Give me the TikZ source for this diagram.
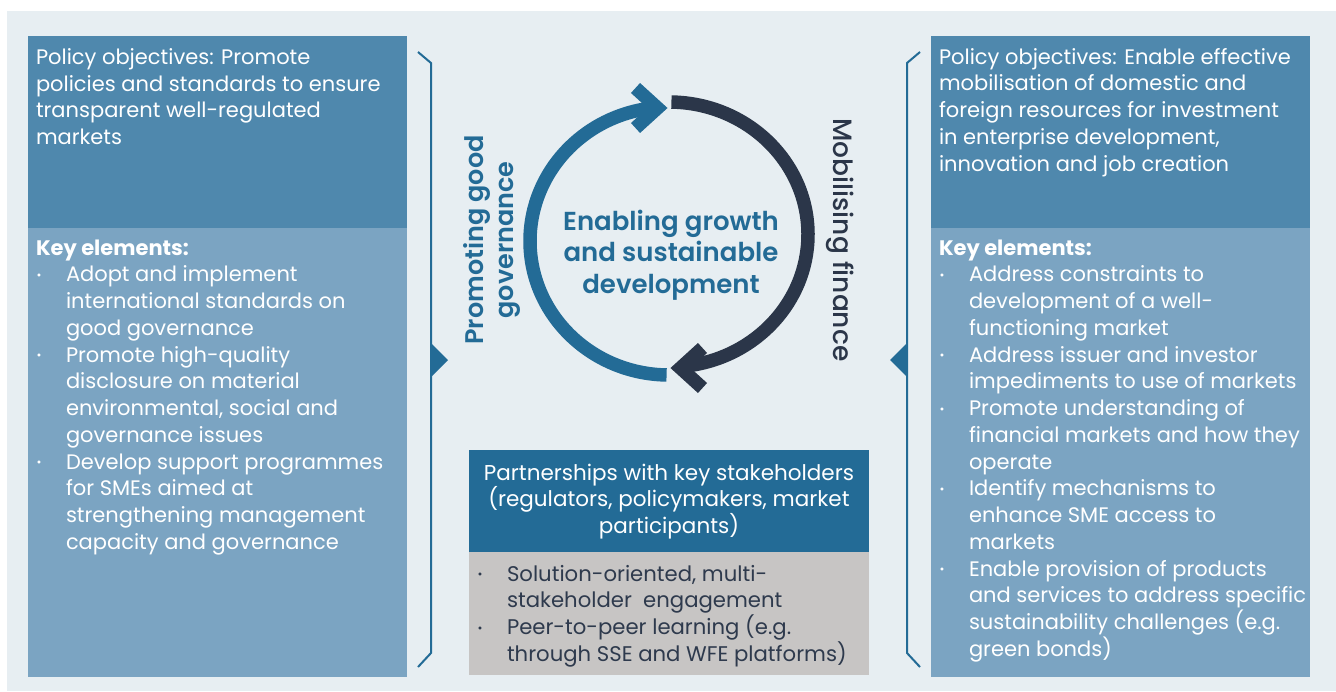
\documentclass[tikz,border=0pt]{standalone}
\usepackage{fontspec}
\setmainfont{Poppins}
\IfFontExistsTF{Poppins SemiBold}{\newfontfamily\semib{Poppins SemiBold}}{\newcommand{\semib}{\bfseries}}
\IfFontExistsTF{Poppins Medium}{\newfontfamily\medf{Poppins Medium}}{\newcommand{\medf}{\relax}}
\definecolor{bg}{HTML}{E7EEF2}
\definecolor{boxdark}{HTML}{4F88AD}
\definecolor{boxlight}{HTML}{7BA4C2}
\definecolor{accent}{HTML}{236B96}
\definecolor{navy}{HTML}{2B3649}
\definecolor{greybox}{HTML}{C7C5C4}
\definecolor{textdark}{HTML}{2E3A4D}
\newcommand{\bul}{\makebox[30pt][l]{\hspace*{0.5pt}\raisebox{2.5pt}{\fontsize{12}{12}\selectfont\textbullet}}}
\newcommand{\ind}{\hspace*{30pt}}
\begin{document}
\begin{tikzpicture}[x=1pt,y=-1pt,
  every node/.style={inner sep=0pt,outer sep=0pt},
  panel/.style={anchor=north west,minimum width=#1,draw=none},
  bodytxt/.style={anchor=north west,align=left,text=white,font=\fontsize{21}{26.75}\selectfont},
  darktxt/.style={anchor=north west,align=left,text=textdark,font=\fontsize{21.2}{26.75}\selectfont},
  brace/.style={draw=accent,line width=2pt},
  ring/.style={line width=13.5pt},
  chev/.style={line width=13.5pt,line join=miter}]
\useasboundingbox (0,0) rectangle (1336,691);
\fill[white] (0,0) rectangle (1336,691);
\fill[bg] (7,11) rectangle (1336,691);

% left panel
\node[panel=379,minimum height=192,fill=boxdark] (lobj) at (28,36) {};
\node[panel=379,minimum height=449,fill=boxlight] (lkey) at (28,228) {};
\node[bodytxt] (lobjtxt) at (36,44.3) {\rule{0pt}{20pt}Policy objectives: Promote\\policies and standards to ensure\\transparent well-regulated\\markets};
\node[bodytxt] (lkeytxt) at (36,235) {\rule{0pt}{20pt}\textbf{Key elements:}\\
\bul Adopt and implement\\
\ind international standards on\\
\ind good governance\\
\bul Promote high-quality\\
\ind disclosure on material\\
\ind environmental, social and\\
\ind governance issues\\
\bul Develop support programmes\\
\ind for SMEs aimed at\\
\ind strengthening management\\
\ind capacity and governance};

% right panel
\node[panel=379,minimum height=192,fill=boxdark] (robj) at (931,36) {};
\node[panel=379,minimum height=449,fill=boxlight] (rkey) at (931,228) {};
\node[bodytxt] (robjtxt) at (939,44) {\rule{0pt}{20pt}Policy objectives: Enable effective\\mobilisation of domestic and\\foreign resources for investment\\in enterprise development,\\innovation and job creation};
\node[bodytxt] (rkeytxt) at (939,235) {\rule{0pt}{20pt}\textbf{Key elements:}\\
\bul Address constraints to\\
\ind development of a well-\\
\ind functioning market\\
\bul Address issuer and investor\\
\ind impediments to use of markets\\
\bul Promote understanding of\\
\ind financial markets and how they\\
\ind operate\\
\bul Identify mechanisms to\\
\ind enhance SME access to\\
\ind markets\\
\bul Enable provision of products\\
\ind and services to address specific\\
\ind sustainability challenges (e.g.\\
\ind green bonds)};

% bottom centre panel
\node[panel=400,minimum height=102,fill=accent] (phead) at (469,450) {};
\node[panel=400,minimum height=123,fill=greybox] (plist) at (469,552) {};
\node[anchor=north,align=center,text=white,font=\fontsize{21.5}{26.5}\selectfont] (pheadtxt) at (669,460) {\rule{0pt}{20pt}Partnerships with key stakeholders\\(regulators, policymakers, market\\participants)};
\node[darktxt] (plisttxt) at (477,561) {\rule{0pt}{20pt}\bul Solution-oriented, multi-\\
\ind stakeholder\ \ engagement\\
\bul Peer-to-peer learning (e.g.\\
\ind through SSE and WFE platforms)};

% braces
\draw[brace] (418,52) -- (431,63) -- (431,653) -- (418,667);
\fill[accent] (431,343) -- (448,360) -- (431,377) -- cycle;
\draw[brace] (920,52) -- (907,63) -- (907,653) -- (920,667);
\fill[accent] (907,343) -- (890,360) -- (907,377) -- cycle;

% cycle arrows
\draw[ring,accent] (669,241) ++(91:139 and 134) arc[start angle=91,end angle=262,x radius=139,y radius=134];
\draw[chev,accent] (635.5,88) -- (657.5,108) -- (635.5,128);
\draw[ring,navy] (669,234.5) ++(271:139 and 132.5) arc[start angle=271,end angle=441.3,x radius=139,y radius=132.5];
\draw[chev,navy] (702.5,348) -- (680.5,368) -- (702.5,388);

% centre texts
\node[anchor=north,align=center,text=accent,font=\fontsize{26}{31.5}\semib\selectfont] (centre) at (671,206) {\rule{0pt}{24pt}Enabling growth\\and sustainable\\development};
\node[rotate=90,align=center,text=accent,font=\fontsize{25.5}{30}\semib\selectfont] (gov) at (492,240) {Promoting good\\governance};
\node[rotate=-90,align=center,text=navy,font=\fontsize{26.5}{30}\medf\selectfont] (fin) at (840,240) {Mobilising finance};
\end{tikzpicture}
\end{document}
